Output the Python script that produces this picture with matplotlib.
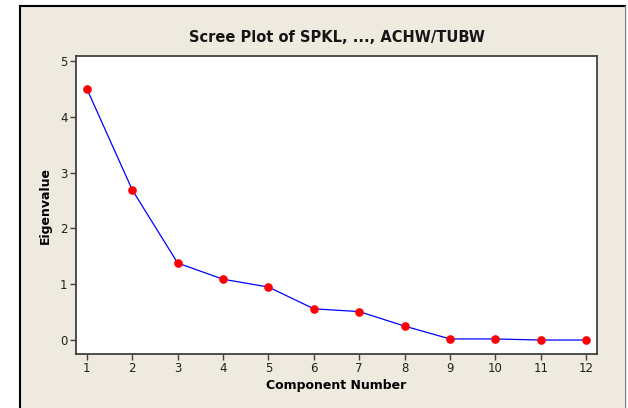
import matplotlib
matplotlib.use("Agg")
import matplotlib.pyplot as plt
from matplotlib.patches import Rectangle
from matplotlib.lines import Line2D

# datos del scree plot
componentes = [1, 2, 3, 4, 5, 6, 7, 8, 9, 10, 11, 12]
eigenvalores = [4.50, 2.69, 1.38, 1.09, 0.95, 0.56, 0.51, 0.25, 0.02, 0.02, 0.00, 0.00]
yticks = [0, 1, 2, 3, 4, 5]

W, H = 628, 408
fig = plt.figure(figsize=(W / 100, H / 100), dpi=100, facecolor="white")

# fondo beige y marco
fig.patches.append(Rectangle((20 / W, 0), 604 / W, 402 / H, transform=fig.transFigure,
                             facecolor="#EEEAE0", edgecolor="none", zorder=-5))
fig.lines.append(Line2D([19.5 / W, 19.5 / W], [0, 402.5 / H], transform=fig.transFigure,
                        color="black", lw=1.5, zorder=-4))
fig.lines.append(Line2D([19.5 / W, 625 / W], [402.5 / H, 402.5 / H], transform=fig.transFigure,
                        color="black", lw=1.5, zorder=-4))
fig.lines.append(Line2D([624.5 / W, 624.5 / W], [0, 402.5 / H], transform=fig.transFigure,
                        color="#808080", lw=1, zorder=-4))

ax = fig.add_axes([76 / W, 1 - 354 / H, (597 - 76) / W, (354 - 56) / H])
ax.set_facecolor("white")
ax.plot(componentes, eigenvalores, color="#0000FF", lw=0.9, zorder=2)
ax.plot(componentes, eigenvalores, "o", color="#FF0000", ms=5.2, zorder=3)

ax.set_xlim(0.76, 12.24)
ax.set_ylim(-0.25, 5.09)
ax.set_xticks(componentes)
ax.set_yticks(yticks)
for s in ax.spines.values():
    s.set_color("#404040")
    s.set_linewidth(1.3)
ax.tick_params(direction="out", length=4, width=1, color="#404040",
               labelsize=8.5, labelcolor="#202020", pad=2)

ax.set_title("Scree Plot of SPKL, ..., ACHW/TUBW", fontsize=10.5, fontweight="bold",
             color="#151515", pad=10)
ax.set_xlabel("Component Number", fontsize=9, fontweight="bold", labelpad=3)
ax.set_ylabel("Eigenvalue", fontsize=9, fontweight="bold", labelpad=6)

fig.savefig("out.png", dpi=100, facecolor=fig.get_facecolor())
